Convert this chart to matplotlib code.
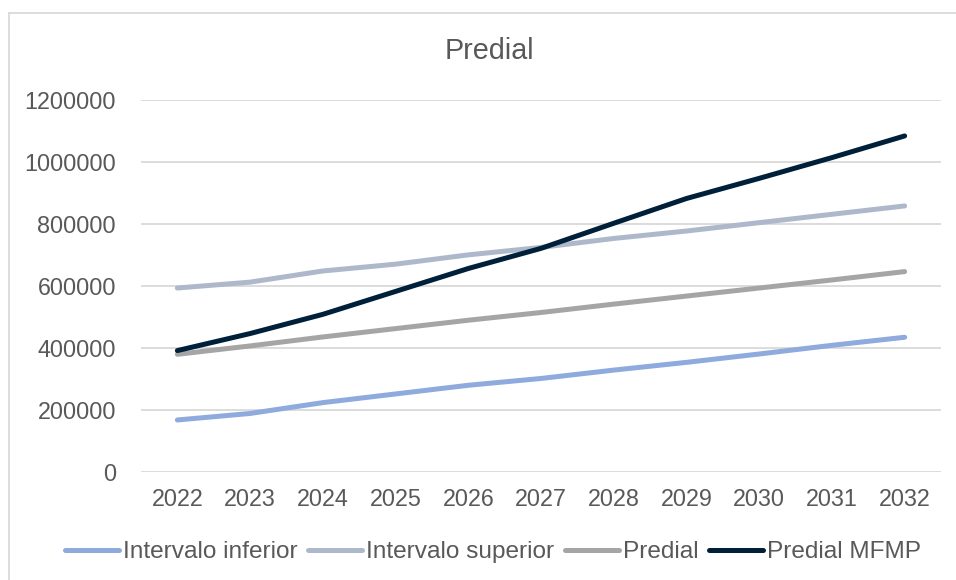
import matplotlib.pyplot as plt
from matplotlib.lines import Line2D

plt.rcParams['font.family'] = ['Liberation Sans', 'DejaVu Sans']

years = [2022, 2023, 2024, 2025, 2026, 2027, 2028, 2029, 2030, 2031, 2032]
inferior = [167000, 188000, 223000, 251000, 279000, 301000, 328000, 353000, 380000, 408000, 434000]
superior = [593000, 612000, 648000, 670000, 700000, 724000, 753000, 777000, 804000, 831000, 858000]
predial = [379000, 406000, 435000, 462000, 489000, 514000, 541000, 567000, 593000, 619000, 646000]
mfmp = [391000, 446000, 508000, 582000, 656000, 721000, 802000, 882000, 947000, 1014000, 1084000]

series = [
    ("Intervalo inferior", inferior, "#8faadc"),
    ("Intervalo superior", superior, "#adb9ca"),
    ("Predial", predial, "#a5a5a5"),
    ("Predial MFMP", mfmp, "#002039"),
]

W, H = 956, 580
fig = plt.figure(figsize=(W / 100, H / 100), dpi=100)
ax = fig.add_axes([141 / W, 1 - 471.7 / H, 800 / W, 371.7 / H])

for name, vals, col in series:
    ax.plot(years, vals, color=col, linewidth=3.6, solid_capstyle="round", label=name)

ax.set_xlim(2021.5, 2032.5)
ax.set_ylim(0, 1200000)
ax.set_xticks(years)
ax.set_xticklabels([str(y) for y in years])
ax.set_yticks(range(0, 1200001, 200000))
ax.set_yticklabels([str(v) for v in range(0, 1200001, 200000)])
ax.grid(axis="y", color="#d9d9d9", linewidth=1.3)
ax.set_axisbelow(True)
for s in ax.spines.values():
    s.set_visible(False)
ax.tick_params(length=0, labelsize=16.8, labelcolor="#595959")
ax.tick_params(axis="x", pad=12)
ax.tick_params(axis="y", pad=18)

fig.text(489.5 / W, 1 - 59.3 / H, "Predial", ha="center", va="baseline",
         fontsize=20.7, color="#595959")

handles = [Line2D([], [], color=c, linewidth=3.6, solid_capstyle="round") for _, _, c in series]
fig.legend(handles, [n for n, _, _ in series], loc="center", bbox_to_anchor=(493 / W, 1 - 552 / H),
           ncol=4, frameon=False, fontsize=17.6, labelcolor="#595959",
           handlelength=2.2, handletextpad=0.15, columnspacing=0.45, borderaxespad=0)

# outer chart border (only top and left visible)
fig.add_artist(Line2D([8.5 / W, 1], [1 - 13 / H, 1 - 13 / H], transform=fig.transFigure,
                      color="#d9d9d9", linewidth=1.3))
fig.add_artist(Line2D([8.5 / W, 8.5 / W], [0, 1 - 13 / H], transform=fig.transFigure,
                      color="#d9d9d9", linewidth=1.3))

fig.savefig("out.png", dpi=100)
